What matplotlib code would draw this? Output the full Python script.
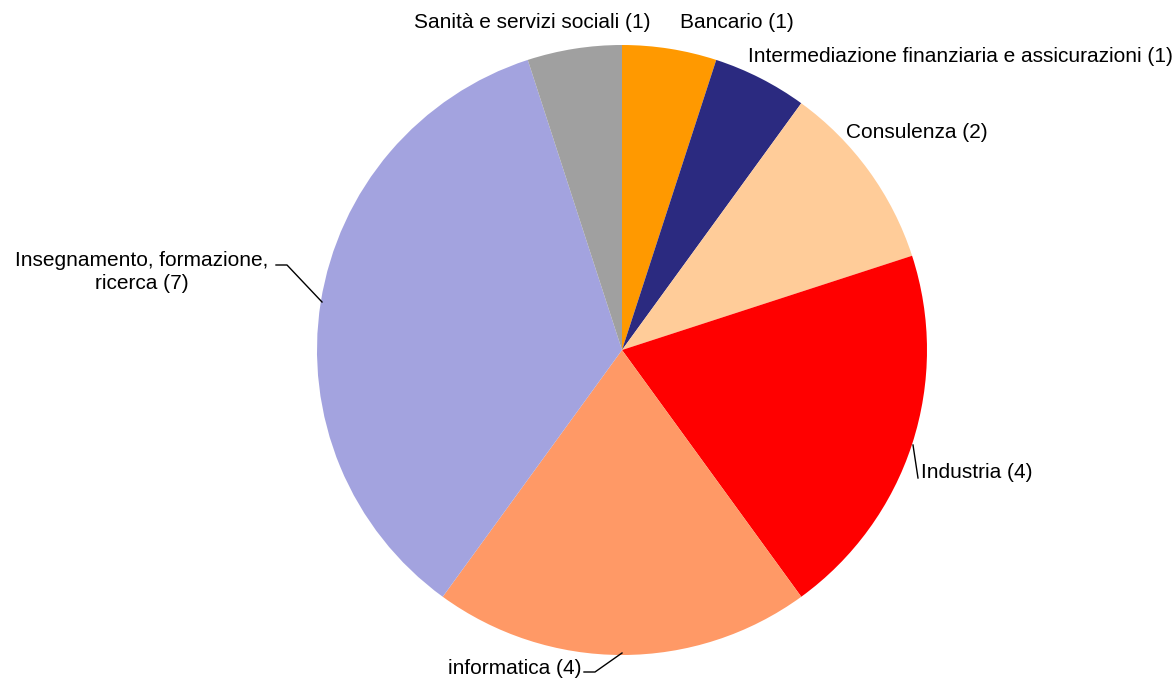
import matplotlib
matplotlib.use("Agg")
import matplotlib.pyplot as plt

categories = ["Bancario", "Intermediazione finanziaria e assicurazioni", "Consulenza",
              "Industria", "informatica", "Insegnamento, formazione,\nricerca", "Sanità e servizi sociali"]
values = [1, 1, 2, 4, 4, 7, 1]
colors = ["#FF9900", "#2B2A80", "#FFCC99", "#FF0000", "#FF9966", "#A3A3DF", "#A0A0A0"]

W, H = 1176, 680
fig = plt.figure(figsize=(W / 100, H / 100), dpi=100)
plt.rcParams['font.family'] = ['Liberation Sans', 'DejaVu Sans']

cx, cy, r = 622, 350, 305
ax = fig.add_axes([(cx - r) / W, (H - cy - r) / H, 2 * r / W, 2 * r / H])
ax.pie(values, colors=colors, startangle=90, counterclock=False, radius=1,
       wedgeprops=dict(linewidth=0))
ax.set_xlim(-1, 1)
ax.set_ylim(-1, 1)
ax.set_aspect('equal')
ax.axis('off')

def P(x, y):
    return (x / W, 1 - y / H)

fs = 15
labels = [f"{c} ({v})" for c, v in zip(categories, values)]
# (x, y, ha)
pos = [
    (680, 23, 'left'),
    (748, 56, 'left'),
    (846, 132, 'left'),
    (921, 472, 'left'),
    (581, 668, 'right'),
    (142, 272, 'center'),
    (532, 23, 'center'),
]
for lab, (x, y, ha) in zip(labels, pos):
    fig.text(*P(x, y), lab, ha=ha, va='center', fontsize=fs, color='black',
             linespacing=1.3, multialignment='center')

# leader lines
def line(pts):
    xs = [p[0] / W for p in pts]
    ys = [1 - p[1] / H for p in pts]
    fig.add_artist(plt.Line2D(xs, ys, color='black', lw=1.0, transform=fig.transFigure))

line([(276, 265), (287, 265), (322, 302)])
line([(584, 672), (595, 672), (622, 653)])
line([(913, 445), (918, 478)])

fig.savefig("out.png", dpi=100, facecolor='white')
